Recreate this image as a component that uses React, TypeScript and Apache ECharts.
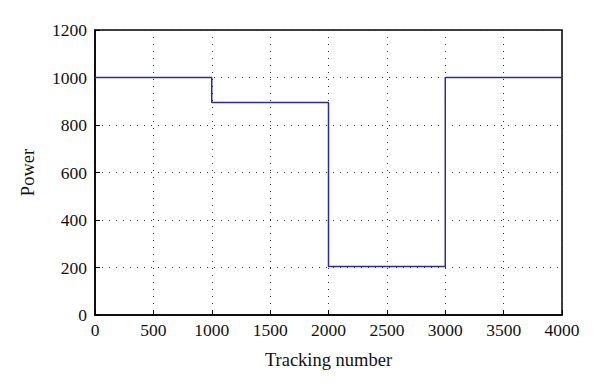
import React, { useEffect, useRef } from "react";
import * as echarts from "echarts";

const stepX = [0, 1000, 2000, 3000, 4000];
const stepPower = [1000, 895, 204, 1000, 1000];
const xTicks = [0, 500, 1000, 1500, 2000, 2500, 3000, 3500, 4000];
const yTicks = [0, 200, 400, 600, 800, 1000, 1200];

const FONT = "Liberation Serif";

export default function App() {
  const ref = useRef<HTMLDivElement>(null);
  useEffect(() => {
    const chart = echarts.init(ref.current!, null, { renderer: "svg" });
    const data = stepX.map((x, i) => [x, stepPower[i]]);
    chart.setOption({
      animation: false,
      grid: {
        left: 95,
        top: 30,
        right: 38,
        bottom: 76,
        show: true,
        borderColor: "#000",
        borderWidth: 1.5,
      },
      xAxis: {
        type: "value",
        min: xTicks[0],
        max: xTicks[xTicks.length - 1],
        interval: 500,
        name: "Tracking number",
        nameLocation: "middle",
        nameGap: 35,
        nameTextStyle: { fontFamily: FONT, fontSize: 18.5, color: "#111" },
        axisLine: { show: true, lineStyle: { color: "#000", width: 1.5 } },
        axisTick: { show: true, inside: true, length: 5, lineStyle: { color: "#000" } },
        axisLabel: {
          fontFamily: FONT,
          fontSize: 17.5,
          color: "#111",
          margin: 6,
          formatter: (v: number) => String(v),
        },
        splitLine: {
          show: true,
          lineStyle: { color: "#333", width: 1, type: [1, 6] },
        },
      },
      yAxis: {
        type: "value",
        min: yTicks[0],
        max: yTicks[yTicks.length - 1],
        interval: 200,
        name: "Power",
        nameLocation: "middle",
        nameGap: 58,
        nameTextStyle: { fontFamily: FONT, fontSize: 18.5, color: "#111" },
        axisLine: { show: true, lineStyle: { color: "#000", width: 1.5 } },
        axisTick: { show: true, inside: true, length: 5, lineStyle: { color: "#000" } },
        axisLabel: {
          fontFamily: FONT,
          fontSize: 17.5,
          color: "#111",
          margin: 8,
          formatter: (v: number) => String(v),
        },
        splitLine: {
          show: true,
          lineStyle: { color: "#333", width: 1, type: [1, 6] },
        },
      },
      series: [
        {
          type: "line",
          step: "end",
          data,
          symbol: "none",
          lineStyle: { color: "#2b2b9e", width: 1.5 },
          z: 5,
        },
      ],
    });
    return () => chart.dispose();
  }, []);
  return <div ref={ref} style={{ width: 600, height: 391, position: "absolute", left: 0, top: 0 }} />;
}
